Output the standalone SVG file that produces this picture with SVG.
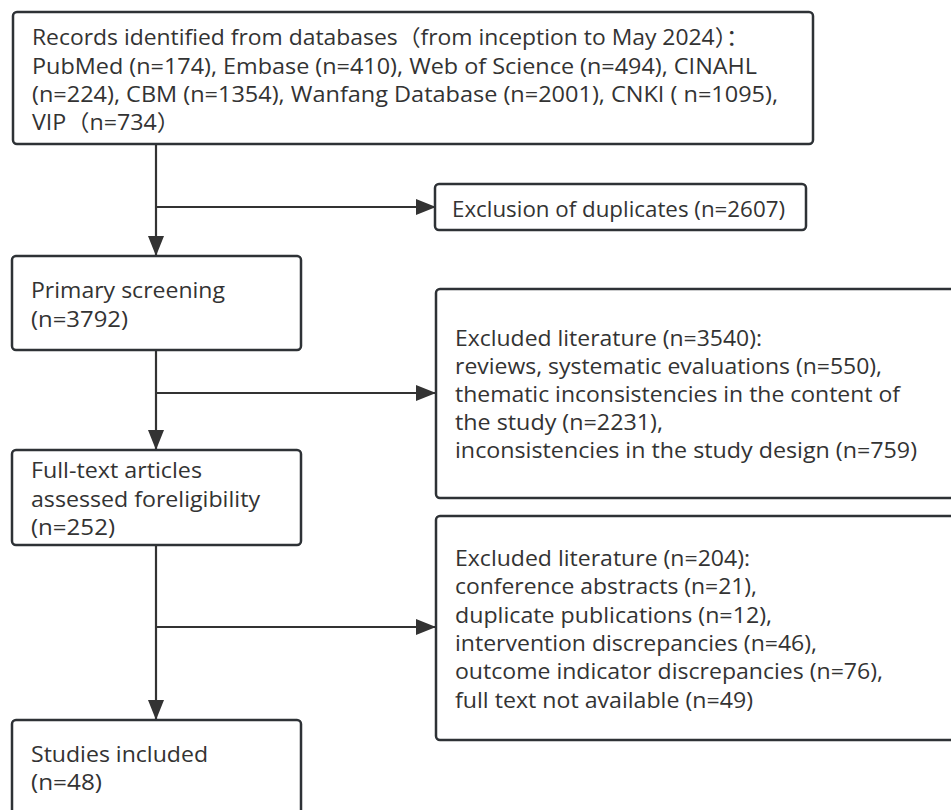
<svg xmlns="http://www.w3.org/2000/svg" width="951" height="810" viewBox="0 0 951 810">
<defs>
<style>
.box{fill:#ffffff;stroke:#2e3236;stroke-width:2.5}
.t{font-family:"Open Sans","Noto Sans","Noto Sans CJK SC",sans-serif;font-size:22px;fill:#333333}
.c{fill:none;stroke:#333333;stroke-width:2.2}
</style>
<marker id="ah" markerUnits="userSpaceOnUse" markerWidth="22" markerHeight="18" refX="20" refY="8" orient="auto">
<path d="M0,0 L20,8 L0,16 Z" fill="#333333"/>
</marker>
</defs>
<rect width="951" height="810" fill="#ffffff"/>
<g id="connectors">
<path class="c" d="M156 144 V256" marker-end="url(#ah)"/>
<path class="c" d="M156 207 H436" marker-end="url(#ah)"/>
<path class="c" d="M156 350 V450" marker-end="url(#ah)"/>
<path class="c" d="M156 393 H436" marker-end="url(#ah)"/>
<path class="c" d="M156 545 V720" marker-end="url(#ah)"/>
<path class="c" d="M156 627 H436" marker-end="url(#ah)"/>
</g>
<g id="records">
<rect class="box" x="13" y="12" width="800" height="132" rx="4"/>
<text class="t" x="32" y="45" textLength="717" lengthAdjust="spacingAndGlyphs">Records identified from databases（from inception to May 2024）：</text>
<text class="t" x="32" y="74" textLength="725" lengthAdjust="spacingAndGlyphs">PubMed (n=174), Embase (n=410), Web of Science (n=494), CINAHL</text>
<text class="t" x="32" y="102" textLength="746" lengthAdjust="spacingAndGlyphs">(n=224), CBM (n=1354), Wanfang Database (n=2001), CNKI ( n=1095),</text>
<text class="t" x="32" y="130" textLength="148" lengthAdjust="spacingAndGlyphs">VIP（n=734）</text>
</g>
<g id="duplicates">
<rect class="box" x="435" y="184" width="371" height="46" rx="4"/>
<text class="t" x="452" y="217" textLength="333" lengthAdjust="spacingAndGlyphs">Exclusion of duplicates (n=2607)</text>
</g>
<g id="primary">
<rect class="box" x="12" y="256" width="289" height="94" rx="4"/>
<text class="t" x="31" y="298" textLength="194" lengthAdjust="spacingAndGlyphs">Primary screening</text>
<text class="t" x="31" y="327" textLength="97" lengthAdjust="spacingAndGlyphs">(n=3792)</text>
</g>
<g id="excluded1">
<rect class="box" x="436" y="289" width="530" height="209" rx="4"/>
<text class="t" x="455" y="346" textLength="307" lengthAdjust="spacingAndGlyphs">Excluded literature (n=3540):</text>
<text class="t" x="455" y="374" textLength="427" lengthAdjust="spacingAndGlyphs">reviews, systematic evaluations (n=550),</text>
<text class="t" x="455" y="402" textLength="445" lengthAdjust="spacingAndGlyphs">thematic inconsistencies in the content of</text>
<text class="t" x="455" y="430" textLength="208" lengthAdjust="spacingAndGlyphs">the study (n=2231),</text>
<text class="t" x="455" y="458" textLength="462" lengthAdjust="spacingAndGlyphs">inconsistencies in the study design (n=759)</text>
</g>
<g id="fulltext">
<rect class="box" x="12" y="450" width="289" height="95" rx="4"/>
<text class="t" x="31" y="478" textLength="171" lengthAdjust="spacingAndGlyphs">Full-text articles</text>
<text class="t" x="31" y="507" textLength="229" lengthAdjust="spacingAndGlyphs">assessed foreligibility</text>
<text class="t" x="31" y="535" textLength="84" lengthAdjust="spacingAndGlyphs">(n=252)</text>
</g>
<g id="excluded2">
<rect class="box" x="436" y="516" width="530" height="224" rx="4"/>
<text class="t" x="455" y="566" textLength="295" lengthAdjust="spacingAndGlyphs">Excluded literature (n=204):</text>
<text class="t" x="455" y="594" textLength="302" lengthAdjust="spacingAndGlyphs">conference abstracts (n=21),</text>
<text class="t" x="455" y="623" textLength="317" lengthAdjust="spacingAndGlyphs">duplicate publications (n=12),</text>
<text class="t" x="455" y="651" textLength="362" lengthAdjust="spacingAndGlyphs">intervention discrepancies (n=46),</text>
<text class="t" x="455" y="679" textLength="428" lengthAdjust="spacingAndGlyphs">outcome indicator discrepancies (n=76),</text>
<text class="t" x="455" y="708" textLength="298" lengthAdjust="spacingAndGlyphs">full text not available (n=49)</text>
</g>
<g id="included">
<rect class="box" x="12" y="720" width="289" height="110" rx="4"/>
<text class="t" x="31" y="762" textLength="177" lengthAdjust="spacingAndGlyphs">Studies included</text>
<text class="t" x="31" y="790" textLength="71" lengthAdjust="spacingAndGlyphs">(n=48)</text>
</g>
</svg>
